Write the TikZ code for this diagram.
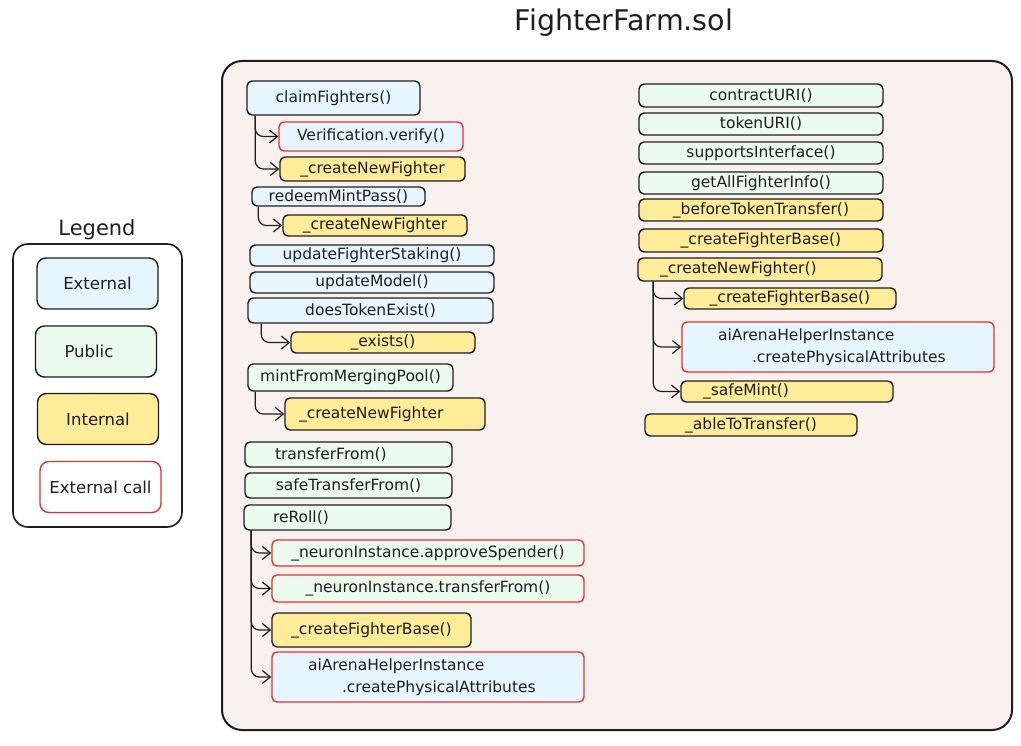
\documentclass[tikz,border=0pt]{standalone}
\usepackage{fontspec}
\setmainfont{DejaVu Sans}
\usetikzlibrary{arrows.meta,calc}
\definecolor{ink}{HTML}{1E1E1E}
\definecolor{extc}{HTML}{E7F5FF}
\definecolor{pubc}{HTML}{EBFBEE}
\definecolor{intc}{HTML}{FFEC99}
\definecolor{callc}{HTML}{E03131}
\definecolor{contc}{HTML}{F8F1EE}
\begin{document}
\begin{tikzpicture}[x=1pt,y=-1pt,
  box/.style={draw=ink, line width=1.4pt, rounded corners=5pt, inner sep=0pt,
    font=\fontsize{15.5}{21.5}\selectfont, text=ink},
  sz/.style 2 args={minimum width=#1pt, minimum height=#2pt},
  lt/.style 2 args={align=left, inner xsep=#1pt, text width=#2pt},
  ext/.style={box, fill=extc},
  pub/.style={box, fill=pubc},
  int/.style={box, fill=intc},
  extcall/.style={box, fill=extc, draw=callc},
  pubcall/.style={box, fill=pubc, draw=callc},
  legbox/.style={box, rounded corners=9pt, sz={121}{51}, font=\fontsize{16.5}{19}\selectfont},
  conn/.style={draw=ink, line width=1.2pt, rounded corners=8pt,
    -{Straight Barb[length=8pt,width=13pt,line width=1.2pt]}},
]
\useasboundingbox[fill=white] (0,0) rectangle (1021,746);

% title
\node[font=\fontsize{28.5}{32}\selectfont, text=ink] (title) at (624,23) {FighterFarm.sol};

% legend
\node[font=\fontsize{21}{24}\selectfont, text=ink] (legtitle) at (97,230) {Legend};
\draw[draw=ink, line width=1.6pt, fill=white, rounded corners=15pt] (13,244) rectangle (182,527);
\node[legbox, fill=extc] (lext) at (97.5,283.5) {External};
\node[legbox, fill=pubc, lt={29}{63}] (lpub) at (96,351.5) {Public};
\node[legbox, fill=intc] (lint) at (98,419) {Internal};
\node[legbox, fill=white, draw=callc] (lcall) at (100.5,487) {External call};

% container
\draw[draw=ink, line width=2pt, fill=contc, rounded corners=20pt] (222,61) rectangle (1012,730);

% left column
\node[ext, sz={173}{34}] (cf) at (333.5,98) {claimFighters()};
\node[extcall, sz={184}{29}] (vv) at (371,136.5) {Verification.verify()};
\node[int, sz={185}{24}] (cn1) at (372.5,169) {\_createNewFighter};
\node[ext, sz={173}{19}] (rmp) at (338.5,196.5) {redeemMintPass()};
\node[int, sz={184}{21}] (cn2) at (375,225.5) {\_createNewFighter};
\node[ext, sz={244}{21}] (ufs) at (372,255.5) {updateFighterStaking()};
\node[ext, sz={244}{21}] (um) at (372,282.5) {updateModel()};
\node[ext, sz={245}{25}] (dte) at (370.5,310.5) {doesTokenExist()};
\node[int, sz={184}{21}] (ex) at (383,342.5) {\_exists()};
\node[pub, sz={205}{27}] (mfmp) at (350.5,377.5) {mintFromMergingPool()};
\node[int, sz={200}{32}, lt={14}{172}] (cn3) at (385,414) {\_createNewFighter};
\node[pub, sz={207}{25}, lt={30}{147}] (tf) at (348.5,454.5) {transferFrom()};
\node[pub, sz={207}{25}] (stf) at (348.5,485.5) {safeTransferFrom()};
\node[pub, sz={207}{25}, lt={29}{149}] (rr) at (347.5,517.5) {reRoll()};
\node[pubcall, sz={312}{26}] (nas) at (428,553) {\_neuronInstance.approveSpender()};
\node[pubcall, sz={312}{27}] (ntf) at (428,588.5) {\_neuronInstance.transferFrom()};
\node[int, sz={199}{34}] (cfb) at (371.5,630) {\_createFighterBase()};
\node[extcall, sz={312}{50}, lt={36}{240}] (ai1) at (428,677)
  {aiArenaHelperInstance\\\hspace*{34pt}.createPhysicalAttributes};

% right column
\node[pub, sz={244}{23}] (curi) at (761,95.5) {contractURI()};
\node[pub, sz={244}{22}] (turi) at (761,124) {tokenURI()};
\node[pub, sz={244}{22}] (si) at (761,153) {supportsInterface()};
\node[pub, sz={244}{22}] (gafi) at (761,183) {getAllFighterInfo()};
\node[int, sz={244}{22}] (btt) at (761,210) {\_beforeTokenTransfer()};
\node[int, sz={244}{23}] (rcfb) at (761,240.5) {\_createFighterBase()};
\node[int, sz={244}{23}, lt={22}{200}] (rcnf) at (760,269.5) {\_createNewFighter()};
\node[int, sz={212}{21}] (rcfb2) at (790,298.5) {\_createFighterBase()};
\node[extcall, sz={312}{50}, lt={36}{240}] (ai2) at (838,347)
  {aiArenaHelperInstance\\\hspace*{34pt}.createPhysicalAttributes};
\node[int, sz={212}{21}, lt={22}{168}] (sm) at (787,391.5) {\_safeMint()};
\node[int, sz={212}{22}] (att) at (751,425) {\_ableToTransfer()};

% connectors
\draw[conn] ($(cf.south west)+(9,0)$) |- (vv.west);
\draw[conn] ($(cf.south west)+(9,0)$) |- (cn1.west);
\draw[conn] ($(rmp.south west)+(7,0)$) |- (cn2.west);
\draw[conn] ($(dte.south west)+(14,0)$) |- (ex.west);
\draw[conn] ($(mfmp.south west)+(8,0)$) |- (cn3.west);
\draw[conn] ($(rr.south west)+(8,0)$) |- (nas.west);
\draw[conn] ($(rr.south west)+(8,0)$) |- (ntf.west);
\draw[conn] ($(rr.south west)+(8,0)$) |- (cfb.west);
\draw[conn] ($(rr.south west)+(8,0)$) |- (ai1.west);
\draw[conn] ($(rcnf.south west)+(16,0)$) |- (rcfb2.west);
\draw[conn] ($(rcnf.south west)+(16,0)$) |- (ai2.west);
\draw[conn] ($(rcnf.south west)+(16,0)$) |- (sm.west);
\end{tikzpicture}
\end{document}
